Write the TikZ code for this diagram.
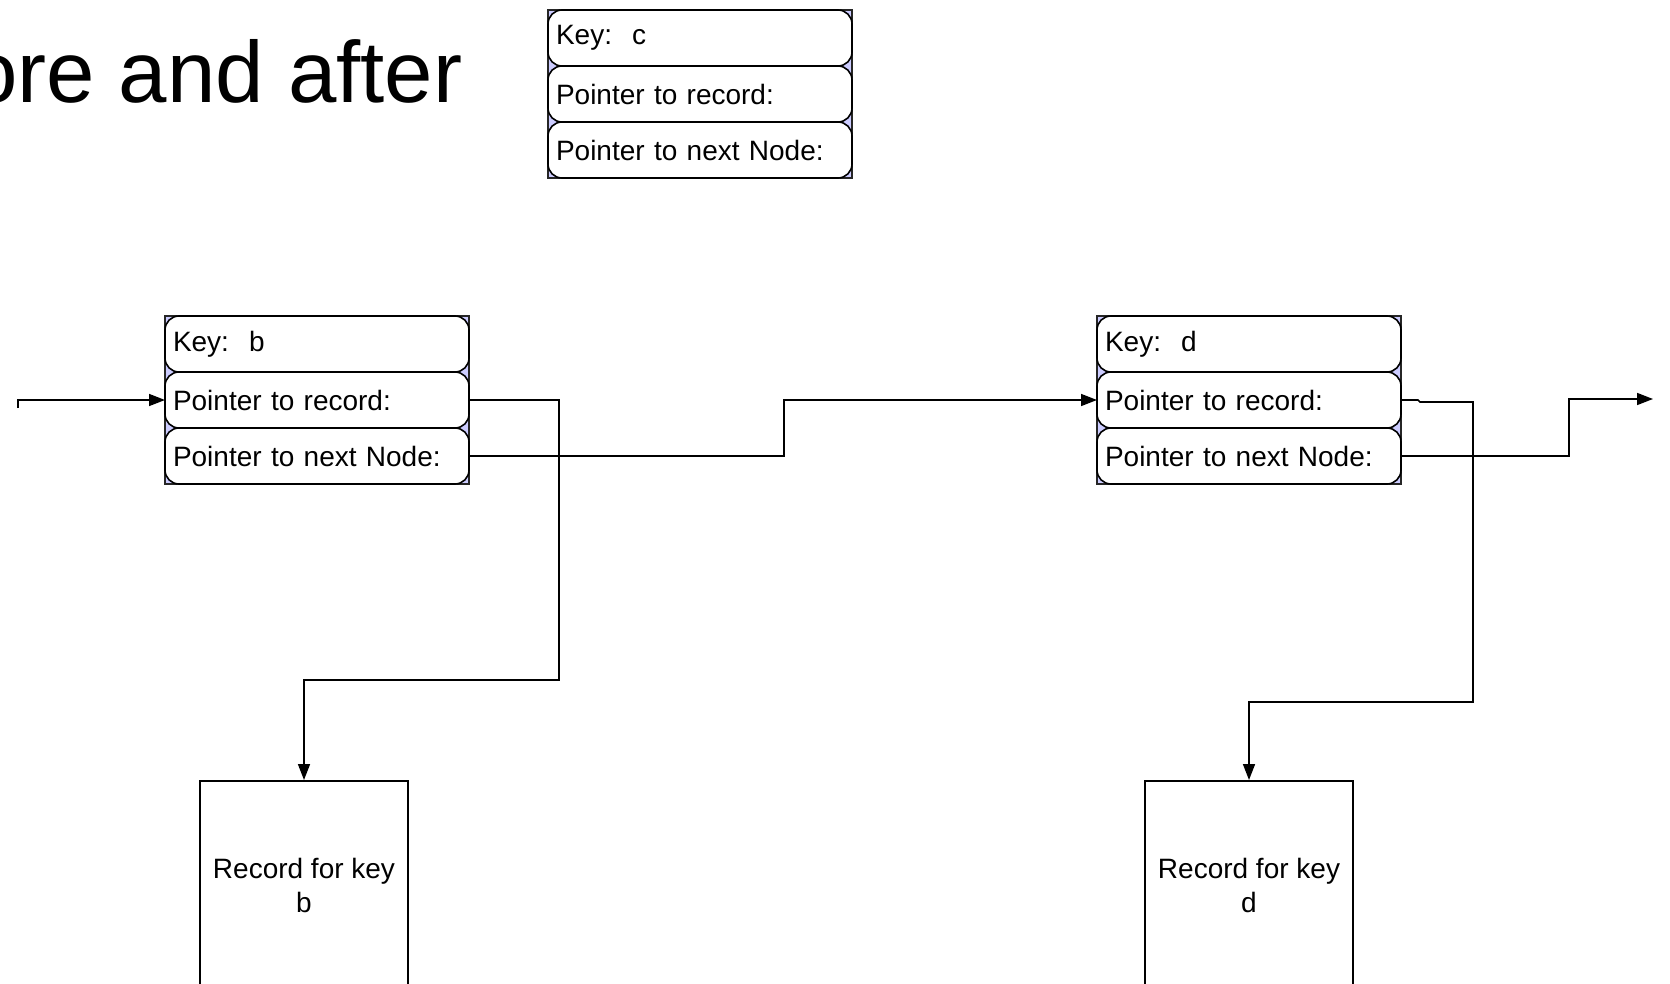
\documentclass[tikz,border=0pt]{standalone}
\usepackage{fontspec}
\setmainfont{Liberation Sans}
\usetikzlibrary{positioning,arrows.meta}

\definecolor{frameblue}{RGB}{204,204,255}

\tikzset{
  listframe/.style={draw=black!85, fill=frameblue, line width=0.8pt},
  rowbox/.style={draw, fill=white, line width=0.8pt, rounded corners=7pt,
    minimum width=152pt, minimum height=28pt, text width=144pt, outer sep=0pt,
    inner xsep=4pt, inner ysep=0pt, align=left, font=\fontsize{14}{17}\selectfont},
  recbox/.style={draw, line width=0.8pt, minimum width=104pt, minimum height=105pt,
    align=center, anchor=north, font=\fontsize{14}{17}\selectfont},
  link/.style={line width=0.8pt, -{Triangle[length=8pt,width=6pt]}}
}

\begin{document}
\begin{tikzpicture}[x=0.5pt,y=-0.5pt]
  \useasboundingbox (0,0) rectangle (1670,984);
  {
    \def\boxw{304}
    \def\boxh{168}
    \node[anchor=base west, font=\fontsize{43.5}{52}\selectfont] (title) at (-38,103) {ore and after};

    % list nodes
    \foreach \k/\x/\y in {c/548/10, b/165/316, d/1097/316}
    {
      \draw[listframe] (\x,\y) rectangle ++(\boxw,\boxh);
      \node[rowbox, anchor=north west] (key\k) at (\x,\y) {Key:\hspace{10pt}\k};
      \node[rowbox, below=0pt of key\k] (ptr\k) {Pointer to record:};
      \node[rowbox, below=0pt of ptr\k] (next\k) {Pointer to next Node:};
    }

    % records
    \node[recbox] (recb) at (304,780) {Record for key\\b};
    \node[recbox] (recd) at (1249,780) {Record for key\\d};

    \coordinate (start) at (18,408);
    \coordinate (bbend) at (559,680);
    \coordinate (midbd) at (784,430);
    \coordinate (dbend) at (1473,702);
    \coordinate (outd) at (1569,430);
    \coordinate (end) at (1653,399);

    \draw[link] (start) |- (ptrb.west);
    \draw[link] (ptrb.east) -| (bbend) -| (recb.north);
    \draw[link] (nextb.east) -| (midbd) |- (ptrd.west);
    \draw[link] (ptrd.east) -- ++(17,0) -- ++(2,2) -| (dbend) -| (recd.north);
    \draw[link] (nextd.east) -| (outd) |- (end);
  }
\end{tikzpicture}
\end{document}
